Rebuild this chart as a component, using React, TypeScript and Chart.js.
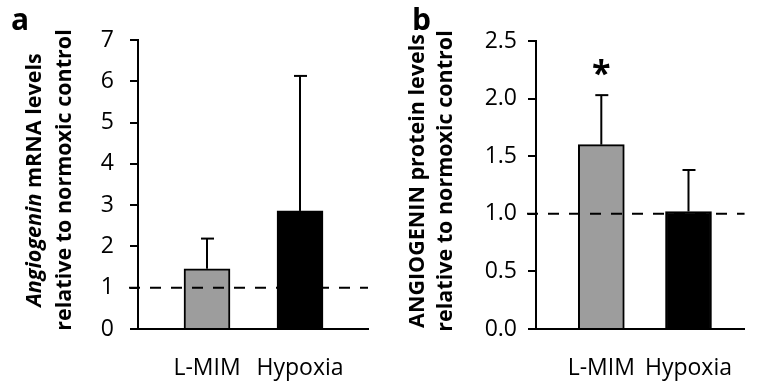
import React, { useEffect, useRef } from 'react';
import { Chart, registerables } from 'chart.js';

Chart.register(...registerables);

// ---- data ----
const categories = ['L-MIM', 'Hypoxia'];
const barColors = ['#9d9d9d', '#000000'];

const mrnaMeans = [1.46, 2.86];
const mrnaErrors = [0.73, 3.27];
const mrnaTicks = [0, 1, 2, 3, 4, 5, 6, 7];
const mrnaStars = ['', ''];

const proteinMeans = [1.6, 1.02];
const proteinErrors = [0.43, 0.36];
const proteinTicks = [0, 0.5, 1.0, 1.5, 2.0, 2.5];
const proteinStars = ['*', ''];

const referenceLevel = 1;

const mrnaTitle = [
  [{ text: 'Angiogenin', italic: true }, { text: ' mRNA levels', italic: false }],
  [{ text: 'relative to normoxic control', italic: false }],
];
const proteinTitle = [
  [{ text: 'ANGIOGENIN protein levels', italic: false }],
  [{ text: 'relative to normoxic control', italic: false }],
];

const FAMILY = '"Open Sans", "DejaVu Sans", sans-serif';
const TITLE_SIZE = 21.5;

type Seg = { text: string; italic: boolean };

const decorPlugin = {
  id: 'panelDecor',
  afterDraw(chart: any, _args: any, opts: any) {
    const ctx: CanvasRenderingContext2D = chart.ctx;
    const xs = chart.scales.x;
    const ys = chart.scales.y;
    const area = chart.chartArea;
    ctx.save();
    ctx.strokeStyle = '#000';
    ctx.fillStyle = '#000';
    ctx.lineWidth = 2;
    ctx.lineCap = 'butt';

    const line = (x1: number, y1: number, x2: number, y2: number) => {
      ctx.beginPath();
      ctx.moveTo(x1, y1);
      ctx.lineTo(x2, y2);
      ctx.stroke();
    };

    // error bars (upper only)
    (opts.means as number[]).forEach((m, i) => {
      const cx = xs.getPixelForValue(i);
      const y0 = ys.getPixelForValue(m);
      const y1 = ys.getPixelForValue(m + opts.errors[i]);
      line(cx, y0, cx, y1);
      line(cx - 6, y1, cx + 7, y1);
    });

    // significance marks
    ctx.font = `bold 34px ${FAMILY}`;
    ctx.textAlign = 'center';
    ctx.textBaseline = 'alphabetic';
    (opts.stars as string[]).forEach((s, i) => {
      if (!s) return;
      const cx = xs.getPixelForValue(i);
      const tip = ys.getPixelForValue(opts.means[i] + opts.errors[i]);
      const mt = ctx.measureText(s);
      const cy = tip - 28;
      const by = cy + (mt.actualBoundingBoxAscent - mt.actualBoundingBoxDescent) / 2;
      ctx.fillText(s, cx, by);
    });

    // dashed reference line
    ctx.setLineDash([11, 10]);
    const ry = ys.getPixelForValue(opts.ref);
    line(area.left - 9, ry, area.right, ry);
    ctx.setLineDash([]);

    // rotated axis title lines
    const lines: Seg[][] = opts.title;
    lines.forEach((segs, li) => {
      const bx = opts.titleX[li];
      const cy = opts.titleY;
      ctx.save();
      ctx.translate(bx, cy);
      ctx.rotate(-Math.PI / 2);
      ctx.textAlign = 'left';
      ctx.textBaseline = 'alphabetic';
      const widths = segs.map((s) => {
        ctx.font = `${s.italic ? 'italic ' : ''}bold ${TITLE_SIZE}px ${FAMILY}`;
        return ctx.measureText(s.text).width;
      });
      const total = widths.reduce((a, b) => a + b, 0);
      let cur = -total / 2;
      segs.forEach((s, i) => {
        ctx.font = `${s.italic ? 'italic ' : ''}bold ${TITLE_SIZE}px ${FAMILY}`;
        ctx.fillText(s.text, cur, 0);
        cur += widths[i];
      });
      ctx.restore();
    });

    // panel letter
    ctx.font = `bold 30px ${FAMILY}`;
    ctx.textAlign = 'left';
    ctx.textBaseline = 'alphabetic';
    ctx.fillText(opts.letter, opts.letterX, 30);

    ctx.restore();
  },
};

type PanelProps = {
  means: number[];
  errors: number[];
  ticks: number[];
  stars: string[];
  yMax: number;
  fmt: (v: number) => string;
  title: Seg[][];
  titleX: number[];
  titleY: number;
  letter: string;
  letterX: number;
  yWidth: number;
  yPad: number;
  padTop: number;
  padRight: number;
  xMin: number;
  xMax: number;
  width: number;
};

function Panel(p: PanelProps) {
  const ref = useRef<HTMLCanvasElement | null>(null);
  useEffect(() => {
    if (!ref.current) return;
    const tickFont = { family: FAMILY, size: 23 };
    const chart = new Chart(ref.current, {
      type: 'bar',
      data: {
        datasets: [
          {
            data: p.means.map((v, i) => ({ x: i, y: v })),
            backgroundColor: barColors,
            borderColor: '#000',
            borderWidth: 2,
            borderSkipped: 'start',
            barThickness: 46,
          } as any,
        ],
      },
      options: {
        animation: false,
        responsive: false,
        maintainAspectRatio: false,
        events: [],
        layout: { padding: { left: 0, right: p.padRight, top: p.padTop, bottom: 0 } },
        plugins: {
          legend: { display: false },
          tooltip: { enabled: false },
          panelDecor: {
            means: p.means,
            errors: p.errors,
            stars: p.stars,
            ref: referenceLevel,
            title: p.title,
            titleX: p.titleX,
            titleY: p.titleY,
            letter: p.letter,
            letterX: p.letterX,
          },
        } as any,
        scales: {
          x: {
            type: 'linear',
            min: p.xMin,
            max: p.xMax,
            offset: false,
            z: 1,
            grid: { display: false, drawTicks: false, offset: false },
            border: { display: true, color: '#000', width: 2 },
            afterBuildTicks: (axis: any) => {
              axis.ticks = categories.map((_, i) => ({ value: i }));
            },
            afterFit: (axis: any) => {
              axis.height = 53;
            },
            ticks: {
              callback: (v: any) => categories[Math.round(Number(v))] ?? '',
              font: tickFont,
              color: '#000',
              padding: 26,
              maxRotation: 0,
              autoSkip: false,
            },
          },
          y: {
            type: 'linear',
            min: 0,
            max: p.yMax,
            afterBuildTicks: (axis: any) => {
              axis.ticks = p.ticks.map((v) => ({ value: v }));
            },
            afterFit: (axis: any) => {
              axis.width = p.yWidth;
            },
            grid: {
              display: true,
              drawOnChartArea: false,
              drawTicks: true,
              tickLength: 8,
              color: '#000',
              lineWidth: 2,
            },
            border: { display: true, color: '#000', width: 2 },
            ticks: {
              callback: (v: any) => p.fmt(Number(v)),
              font: tickFont,
              color: '#000',
              padding: p.yPad,
            },
          },
        } as any,
      },
      plugins: [decorPlugin],
    } as any);
    return () => chart.destroy();
  }, []);
  return (
    <canvas
      ref={ref}
      width={p.width}
      height={382}
      style={{ display: 'block', width: p.width, height: 382 }}
    />
  );
}

export default function App() {
  return (
    <div
      style={{
        position: 'absolute',
        left: 0,
        top: 0,
        width: 758,
        height: 382,
        display: 'flex',
        background: '#fff',
      }}
    >
      <Panel
        means={mrnaMeans}
        errors={mrnaErrors}
        ticks={mrnaTicks}
        stars={mrnaStars}
        yMax={7}
        fmt={(v) => String(v)}
        title={mrnaTitle}
        titleX={[41, 71]}
        titleY={180}
        letter="a"
        letterX={11}
        yWidth={138}
        yPad={16}
        padTop={40}
        padRight={11}
        xMin={-0.742}
        xMax={1.731}
        width={379}
      />
      <Panel
        means={proteinMeans}
        errors={proteinErrors}
        ticks={proteinTicks}
        stars={proteinStars}
        yMax={2.5}
        fmt={(v) => v.toFixed(1)}
        title={proteinTitle}
        titleX={[45, 73]}
        titleY={181}
        letter="b"
        letterX={33}
        yWidth={157}
        yPad={11}
        padTop={41}
        padRight={0}
        xMin={-0.749}
        xMax={1.643}
        width={379}
      />
    </div>
  );
}
